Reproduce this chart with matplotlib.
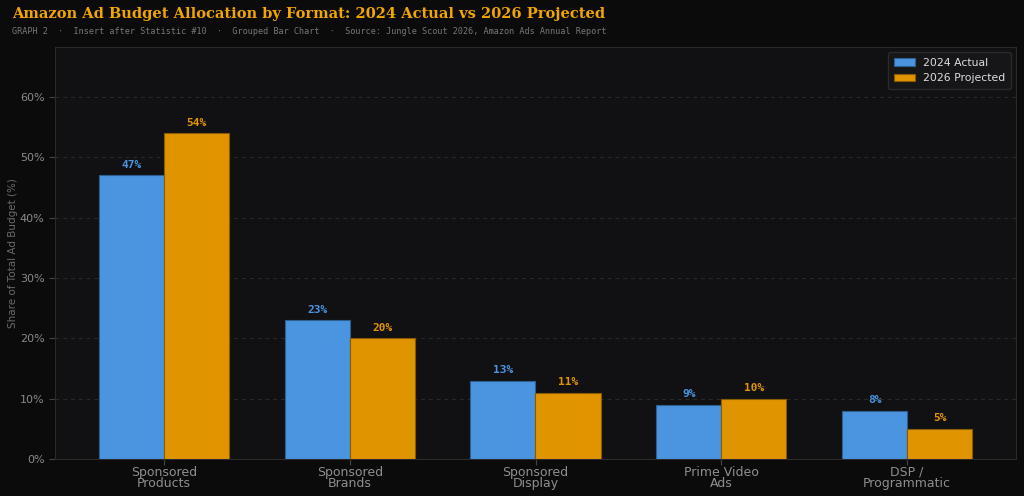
import numpy as np
import matplotlib
matplotlib.use("Agg")
import matplotlib.pyplot as plt
from matplotlib.ticker import FuncFormatter

categories = ["Sponsored\nProducts", "Sponsored\nBrands", "Sponsored\nDisplay",
              "Prime Video\nAds", "DSP /\nProgrammatic"]
actual_2024 = [47, 23, 13, 9, 8]
projected_2026 = [54, 20, 11, 10, 5]
yticks = [0, 10, 20, 30, 40, 50, 60]

blue = "#4a94e0"
orange = "#e09400"
bg = "#0b0b0b"
axbg = "#111113"

fig = plt.figure(figsize=(10.24, 4.96), dpi=100, facecolor=bg)
ax = fig.add_axes([55 / 1024, 1 - 459 / 496, (1016 - 55) / 1024, (459 - 47) / 496])
ax.set_facecolor(axbg)

x = np.arange(len(categories))
w = 0.35
b1 = ax.bar(x - w / 2, actual_2024, w, color=blue, edgecolor="#2f5f90", linewidth=0.8,
            label="2024 Actual", zorder=3)
b2 = ax.bar(x + w / 2, projected_2026, w, color=orange, edgecolor="#8a5c00", linewidth=0.8,
            label="2026 Projected", zorder=3)

# value labels above each bar
for bars, vals, c in [(b1, actual_2024, blue), (b2, projected_2026, orange)]:
    for r, v in zip(bars, vals):
        ax.text(r.get_x() + r.get_width() / 2, v + 0.9, f"{v}%", ha="center", va="bottom",
                color=c, fontsize=8, fontweight="bold", family="DejaVu Sans Mono", zorder=4)

ax.set_xlim(-0.586, 4.586)
ax.set_ylim(0, 68.3)
ax.set_xticks(x)
ax.set_xticklabels(categories, fontsize=9, linespacing=0.85)
ax.set_yticks(yticks)
ax.yaxis.set_major_formatter(FuncFormatter(lambda v, p: f"{v:.0f}%"))
ax.tick_params(axis="y", color="#444444", labelcolor="#8a8a8a", labelsize=8, length=4)
ax.tick_params(axis="x", color="#444444", labelcolor="#8e8e8e", length=4, pad=1)
ax.set_ylabel("Share of Total Ad Budget (%)", color="#6a6a6a", fontsize=7.5)
ax.yaxis.set_label_coords(-0.039, 0.5)

ax.grid(axis="y", color="#2a2a2a", linestyle=(0, (4, 4)), linewidth=0.7, zorder=0)
for s in ax.spines.values():
    s.set_color("#2a2a2a")
    s.set_linewidth(0.8)

leg = ax.legend(loc="upper right", fontsize=7.8, facecolor="#161618", edgecolor="#2a2a2a",
                labelcolor="#dddddd", framealpha=1.0, handlelength=2.0,
                borderpad=0.5, labelspacing=0.5, handletextpad=0.7)

fig.text(12 / 1024, 1 - 14 / 496, "Amazon Ad Budget Allocation by Format: 2024 Actual vs 2026 Projected",
         color="#f0a500", fontsize=10.5, fontweight="bold", family="DejaVu Serif", va="center")
fig.text(12 / 1024, 1 - 31 / 496,
         "GRAPH 2  ·  Insert after Statistic #10  ·  Grouped Bar Chart  ·  Source: Jungle Scout 2026, Amazon Ads Annual Report",
         color="#777777", fontsize=6.1, family="DejaVu Sans Mono", va="center")

fig.savefig("out.png", dpi=100, facecolor=bg)
